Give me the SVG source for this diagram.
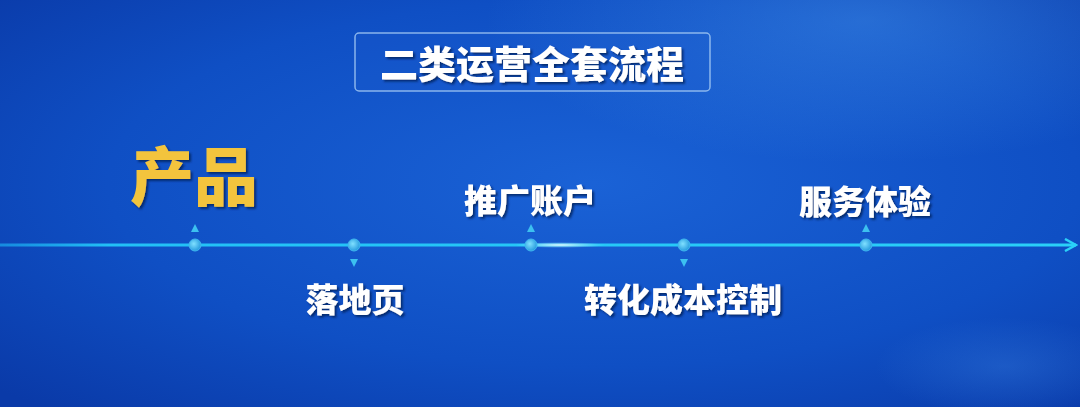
<svg xmlns="http://www.w3.org/2000/svg" width="1080" height="407" viewBox="0 0 1080 407">
<defs>
<style>
.lbl{font-family:"Noto Sans CJK SC","Noto Sans",sans-serif;font-weight:900;fill:#ffffff;font-size:33px;filter:url(#sh)}
.dot{fill:url(#dotg);stroke:#3fb8f0;stroke-width:1}
.tri{fill:#3cc0f0}
</style>
<radialGradient id="bg" cx="0.55" cy="0.45" r="0.75">
<stop offset="0" stop-color="#1a62d6"/>
<stop offset="0.6" stop-color="#0f4fc4"/>
<stop offset="1" stop-color="#0a3aa8"/>
</radialGradient>
<radialGradient id="glow" cx="0.8" cy="0.05" r="0.35">
<stop offset="0" stop-color="#4b9cf0" stop-opacity="0.4"/>
<stop offset="1" stop-color="#4b9cf0" stop-opacity="0"/>
</radialGradient>
<radialGradient id="glow2" cx="0.93" cy="0.9" r="0.12">
<stop offset="0" stop-color="#3f8ae8" stop-opacity="0.3"/>
<stop offset="1" stop-color="#3f8ae8" stop-opacity="0"/>
</radialGradient>
<linearGradient id="line" gradientUnits="userSpaceOnUse" x1="0" y1="245" x2="1080" y2="245">
<stop offset="0" stop-color="#1aa8f0" stop-opacity="0.7"/>
<stop offset="0.1" stop-color="#22c0f6"/>
<stop offset="1" stop-color="#2ad0f8"/>
</linearGradient>
<radialGradient id="dotg" cx="0.4" cy="0.4" r="0.6">
<stop offset="0" stop-color="#7fe0ff"/>
<stop offset="1" stop-color="#2a9ee0"/>
</radialGradient>
<radialGradient id="flare" cx="0.5" cy="0.5" r="0.5">
<stop offset="0" stop-color="#ffffff" stop-opacity="0.9"/>
<stop offset="1" stop-color="#8fe8ff" stop-opacity="0"/>
</radialGradient>
<filter id="sh" x="-10%" y="-20%" width="130%" height="150%">
<feDropShadow dx="2" dy="2" stdDeviation="1.2" flood-color="#05205a" flood-opacity="0.8"/>
</filter>
<marker id="arr" markerWidth="14" markerHeight="14" refX="12" refY="7" orient="auto" markerUnits="userSpaceOnUse">
<path d="M1,1 L12,7 L1,13" fill="none" stroke="#2ad0f8" stroke-width="2.5"/>
</marker>
</defs>
<rect width="1080" height="407" fill="url(#bg)"/>
<rect width="1080" height="407" fill="url(#glow)"/>
<rect width="1080" height="407" fill="url(#glow2)"/>

<g id="title">
<rect x="355" y="33" width="355" height="58" rx="4" fill="#1a5ad0" fill-opacity="0.25" stroke="#a8cdf5" stroke-opacity="0.8" stroke-width="1.5"/>
<text x="532" y="78" text-anchor="middle" class="lbl" style="font-size:38px">二类运营全套流程</text>
</g>

<g id="connectors">
<path d="M0,245 L1076,245" fill="none" stroke="url(#line)" stroke-width="3" marker-end="url(#arr)"/>
<ellipse cx="560" cy="245" rx="45" ry="3" fill="url(#flare)"/>
</g>

<g id="node-product">
<text x="194" y="200" text-anchor="middle" style="font-family:'Noto Sans CJK SC',sans-serif;font-weight:900;font-size:64px;fill:#f3c43c;filter:url(#sh)">产品</text>
<path class="tri" d="M195,224 L199,232 L191,232 Z"/>
<circle class="dot" cx="195" cy="245" r="6"/>
</g>

<g id="node-landing">
<circle class="dot" cx="354" cy="245" r="6"/>
<path class="tri" d="M350,259 L358,259 L354,267 Z"/>
<text x="355" y="312" text-anchor="middle" class="lbl">落地页</text>
</g>

<g id="node-account">
<text x="530" y="213" text-anchor="middle" class="lbl">推广账户</text>
<path class="tri" d="M531,224 L535,232 L527,232 Z"/>
<circle class="dot" cx="531" cy="245" r="6"/>
</g>

<g id="node-cost">
<circle class="dot" cx="684" cy="245" r="6"/>
<path class="tri" d="M680,259 L688,259 L684,267 Z"/>
<text x="683" y="312" text-anchor="middle" class="lbl">转化成本控制</text>
</g>

<g id="node-service">
<text x="865" y="214" text-anchor="middle" class="lbl">服务体验</text>
<path class="tri" d="M866,224 L870,232 L862,232 Z"/>
<circle class="dot" cx="866" cy="245" r="6"/>
</g>
</svg>
